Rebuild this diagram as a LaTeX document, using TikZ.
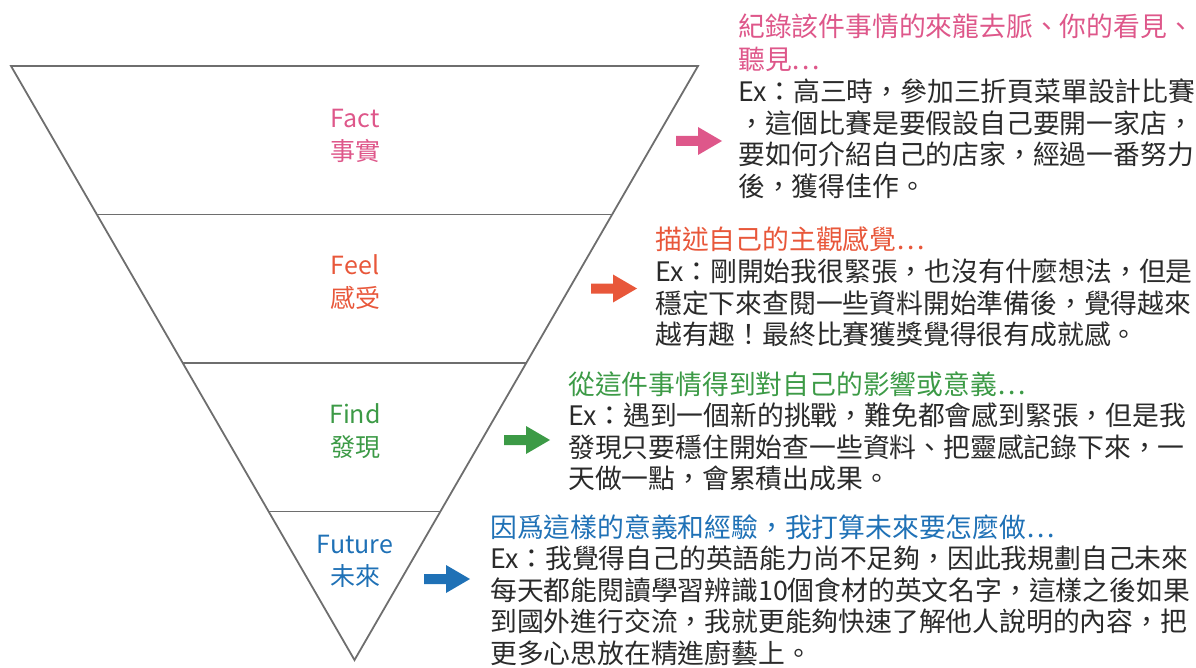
\documentclass[tikz,border=0pt]{standalone}
\usepackage{fontspec}
\usetikzlibrary{calc}
\setmainfont{Noto Sans CJK TC}
\definecolor{pinkc}{HTML}{DE578A}
\definecolor{orangec}{HTML}{E8573A}
\definecolor{greenc}{HTML}{3C9A46}
\definecolor{bluec}{HTML}{1F71B6}
\definecolor{bodyc}{HTML}{2A2A2A}
\definecolor{linec}{HTML}{6E6E6E}
\tikzset{
  funnel/.style={draw=linec, line width=1.8pt, line join=miter},
  lbl/.style={inner sep=0pt, anchor=base, font=\fontsize{25}{30}\selectfont},
  txt/.style={inner sep=0pt, anchor=base west, font=\fontsize{26.8}{31.5}\selectfont, text=bodyc},
  rarrow/.pic={\fill[#1] (0,-5) -- (22,-5) -- (22,-14) -- (46,0) -- (22,14) -- (22,5) -- (0,5) -- cycle;}
}
\begin{document}
\begin{tikzpicture}[x=1pt,y=-1pt]
\useasboundingbox (0,0) rectangle (1196,668);
% funnel
\coordinate (tl) at (11,66);
\coordinate (tr) at (698,66);
\coordinate (ap) at (354.5,660);
\draw[funnel] (tl) -- (tr) -- (ap) -- cycle;
\draw[funnel] ($(tl)!0.25!(ap)$) -- ($(tr)!0.25!(ap)$);
\draw[funnel] ($(tl)!0.5!(ap)$) -- ($(tr)!0.5!(ap)$);
\draw[funnel] ($(tl)!0.75!(ap)$) -- ($(tr)!0.75!(ap)$);
% labels
\node[lbl, text=pinkc] (fact) at (355,128) {Fact};
\node[lbl, text=pinkc] (factz) at (355,161) {事實};
\node[lbl, text=orangec] (feel) at (355,275) {Feel};
\node[lbl, text=orangec] (feelz) at (355,307) {感受};
\node[lbl, text=greenc] (find) at (355,423) {Find};
\node[lbl, text=greenc] (findz) at (355,456) {發現};
\node[lbl, text=bluec] (fut) at (355,553) {Future};
\node[lbl, text=bluec] (futz) at (355,585) {未來};
% arrows
\pic at (676,141) {rarrow=pinkc};
\pic at (591,288.5) {rarrow=orangec};
\pic at (504,440) {rarrow=greenc};
\pic at (424,579) {rarrow=bluec};
% block 1
\node[txt, text=pinkc] (a1) at (738,37) {紀錄該件事情的來龍去脈、你的看見、};
\node[txt, text=pinkc] (a2) at (738,69.5) {聽見…};
\node[txt] (a3) at (738,102) {Ex：高三時，參加三折頁菜單設計比賽};
\node[txt] (a4) at (738,133.5) {，這個比賽是要假設自己要開一家店，};
\node[txt] (a5) at (738,165) {要如何介紹自己的店家，經過一番努力};
\node[txt] (a6) at (738,196.5) {後，獲得佳作。};
% block 2
\node[txt, text=orangec] (b1) at (655,250) {描述自己的主觀感覺…};
\node[txt] (b2) at (655,281.5) {Ex：剛開始我很緊張，也沒有什麼想法，但是};
\node[txt] (b3) at (655,313) {穩定下來查閱一些資料開始準備後，覺得越來};
\node[txt] (b4) at (655,344.5) {越有趣！最終比賽獲獎覺得很有成就感。};
% block 3
\node[txt, text=greenc] (c1) at (568,394) {從這件事情得到對自己的影響或意義…};
\node[txt] (c2) at (568,425.5) {Ex：遇到一個新的挑戰，難免都會感到緊張，但是我};
\node[txt] (c3) at (568,457) {發現只要穩住開始查一些資料、把靈感記錄下來，一};
\node[txt] (c4) at (568,488.5) {天做一點，會累積出成果。};
% block 4
\node[txt, text=bluec] (d1) at (490,537) {因爲這樣的意義和經驗，我打算未來要怎麼做…};
\node[txt] (d2) at (490,568.5) {Ex：我覺得自己的英語能力尚不足夠，因此我規劃自己未來};
\node[txt] (d3) at (490,600) {每天都能閱讀學習辨識10個食材的英文名字，這樣之後如果};
\node[txt] (d4) at (490,631.5) {到國外進行交流，我就更能夠快速了解他人說明的內容，把};
\node[txt] (d5) at (490,663) {更多心思放在精進廚藝上。};
\end{tikzpicture}
\end{document}
